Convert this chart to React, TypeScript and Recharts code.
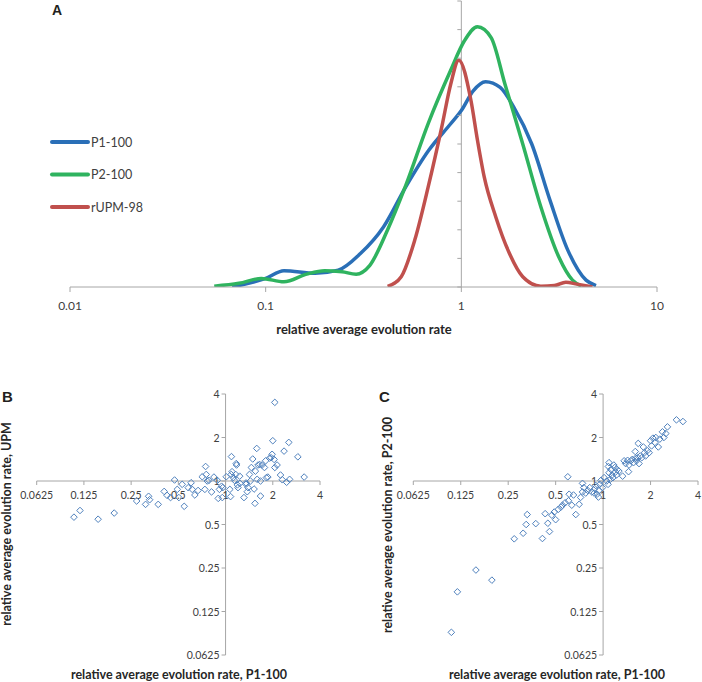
import React from 'react';
import {
  LineChart,
  Line,
  XAxis,
  YAxis,
  ReferenceLine,
  ReferenceDot,
  ScatterChart,
  Scatter,
} from 'recharts';

// ---------- Panel A : density curves ----------
const seriesNames = ['P1-100', 'P2-100', 'rUPM-98'];
const seriesColors = ['#2a6fb7', '#2fb35f', '#c0504d'];

const p1Rate = [0.0674, 0.1, 0.124, 0.179, 0.235, 0.305, 0.4, 0.52, 0.68, 0.88, 1, 1.15, 1.33, 1.58, 1.85, 2.29, 2.84, 3.5, 4.34, 4.88];
const p1Density = [0, 0.3, 0.57, 0.48, 0.59, 1.17, 2.1, 3.5, 4.77, 5.7, 6.17, 6.86, 7.18, 6.98, 6.3, 5.0, 3.03, 1.29, 0.24, 0.05];

const p2Rate = [0.0546, 0.073, 0.095, 0.124, 0.162, 0.2, 0.246, 0.29, 0.34, 0.42, 0.52, 0.68, 0.88, 1.035, 1.21, 1.42, 1.67, 2.06, 2.55, 3.15, 3.7, 4.11];
const p2Density = [0.03, 0.13, 0.3, 0.18, 0.45, 0.57, 0.53, 0.45, 0.75, 2.0, 3.55, 5.75, 7.56, 8.6, 9.1, 8.72, 7.1, 5.0, 2.8, 1.05, 0.24, 0.03];

const upmRate = [0.42, 0.493, 0.578, 0.677, 0.794, 0.883, 0.97, 1.12, 1.21, 1.31, 1.5, 1.76, 2.06, 2.55, 2.99, 3.42, 3.9, 4.68];
const upmDensity = [0.02, 0.36, 1.64, 3.5, 5.59, 7.1, 7.93, 6.52, 5.12, 3.84, 2.45, 1.18, 0.36, 0.03, 0.05, 0.17, 0.1, 0.0];

const aXTicks = [0.01, 0.1, 1, 10];
const aYTicks = [0, 1, 2, 3, 4, 5, 6, 7, 8, 9, 10];

// ---------- Panel B : P1-100 vs UPM ----------
const bX = [0.108, 0.118, 0.154, 0.195, 0.271, 0.309, 0.323, 0.328, 0.372, 0.406, 0.424, 0.446, 0.473, 0.492, 0.504, 0.529, 0.545, 0.578, 0.603, 0.613, 0.637, 0.668, 0.71, 0.738, 0.746, 0.753, 0.764, 0.783, 0.814, 0.843, 0.886, 0.898, 0.914, 0.943, 0.953, 0.96,
  1.01, 1.065, 1.076, 1.086, 1.09, 1.1, 1.12, 1.14, 1.16, 1.17, 1.175, 1.19, 1.2, 1.23, 1.235, 1.31, 1.35, 1.35, 1.375, 1.39, 1.42, 1.44, 1.46, 1.49, 1.52, 1.54, 1.55, 1.58, 1.59, 1.61, 1.65, 1.67, 1.67, 1.71, 1.77, 1.8, 1.82, 1.86, 1.91, 1.95, 1.98, 2.0, 2.04, 2.06, 2.06, 2.13, 2.24, 2.3, 2.36, 2.45, 2.53, 2.56, 2.89, 3.17];
const bY = [0.562, 0.625, 0.544, 0.6, 0.727, 0.689, 0.784, 0.742, 0.689, 0.847, 0.795, 0.768, 1.016, 0.875, 0.768, 0.948, 0.668, 0.899, 0.973, 0.875, 0.8, 0.86, 1.07, 0.875, 1.26, 1.11, 1.0, 1.01, 0.84, 1.065, 1.01, 0.758, 0.875, 0.92, 0.768, 0.9,
  1.07, 0.875, 0.78, 1.11, 1.475, 1.16, 1.055, 1.01, 1.11, 1.32, 1.29, 0.94, 0.9, 1.08, 0.963, 0.768, 0.948, 0.97, 0.843, 0.9, 1.11, 1.0, 1.24, 1.42, 0.88, 0.7, 1.17, 1.68, 1.027, 1.29, 1.3, 0.787, 1.0, 1.29, 1.24, 1.38, 1.055, 1.065, 1.44, 1.45, 1.53, 1.9, 1.41, 3.5, 1.24, 1.29, 1.1, 1.02, 1.61, 0.98, 1.85, 1.027, 1.47, 1.065];

// ---------- Panel C : P1-100 vs P2-100 ----------
const cX = [0.109, 0.119, 0.156, 0.197, 0.273, 0.311, 0.325, 0.33, 0.374, 0.412, 0.429, 0.446, 0.457, 0.473, 0.49, 0.5, 0.52, 0.54, 0.553, 0.574, 0.597, 0.603, 0.609, 0.633, 0.649, 0.671, 0.705, 0.72, 0.74, 0.74, 0.754, 0.776, 0.8, 0.823, 0.848, 0.877, 0.885, 0.9, 0.916, 0.934, 0.943, 0.952, 0.97, 0.99,
  1.015, 1.055, 1.075, 1.08, 1.09, 1.09, 1.11, 1.12, 1.135, 1.155, 1.17, 1.185, 1.2, 1.215, 1.23, 1.26, 1.33, 1.36, 1.39, 1.43, 1.45, 1.46, 1.5, 1.53, 1.56, 1.6, 1.61, 1.63, 1.66, 1.67, 1.69, 1.72, 1.76, 1.8, 1.83, 1.86, 1.91, 1.96, 2.0, 2.03, 2.07, 2.13, 2.16, 2.24, 2.29, 2.38, 2.43, 2.5, 2.56, 2.92, 3.21];
const cY = [0.0897, 0.171, 0.242, 0.206, 0.398, 0.435, 0.5, 0.586, 0.507, 0.4, 0.594, 0.51, 0.447, 0.58, 0.61, 0.54, 0.637, 0.66, 0.68, 0.707, 1.07, 0.73, 0.81, 0.68, 0.8, 0.586, 0.69, 0.77, 0.84, 0.963, 0.9, 0.825, 0.86, 0.9, 0.84, 0.825, 0.885, 0.93, 0.81, 0.774, 0.86, 0.948, 1.01, 0.9,
  1.055, 1.0, 0.948, 1.26, 1.34, 1.14, 1.027, 1.2, 1.095, 1.055, 1.29, 1.24, 1.155, 1.1, 1.2, 1.17, 1.08, 1.38, 1.32, 1.39, 1.16, 1.29, 1.38, 1.41, 1.34, 1.6, 1.44, 1.38, 1.45, 1.82, 1.32, 1.49, 1.45, 1.72, 1.57, 1.49, 1.62, 1.57, 1.9, 1.75, 1.98, 1.85, 2.0, 1.72, 1.95, 2.19, 2.0, 2.13, 2.37, 2.65, 2.58];

const scatterTicks = [0.0625, 0.125, 0.25, 0.5, 1, 2, 4];

// ---------- styling ----------
const AXIS = '#a6a6a6';
const TXT = '#404040';
const FONT = 'Lato, "Open Sans", sans-serif';
const MARK = '#4f81bd';

const zip = (xs: number[], ys: number[]) => xs.map((x, i) => ({ x, y: ys[i] }));
const p1Data = zip(p1Rate, p1Density);
const p2Data = zip(p2Rate, p2Density);
const upmData = zip(upmRate, upmDensity);
const bData = zip(bX, bY);
const cData = zip(cX, cY);
const aSeries = [p1Data, p2Data, upmData];

const Diamond = (props: any) => {
  const { cx, cy } = props;
  if (cx == null || cy == null) return null;
  const r = 3.3;
  return (
    <path
      d={`M${cx},${cy - r}L${cx + r},${cy}L${cx},${cy + r}L${cx - r},${cy}Z`}
      fill="none"
      stroke={MARK}
      strokeWidth={1}
    />
  );
};

const XTickMark = ({ cx, cy, text }: any) => (
  <g>
    <line x1={cx} y1={cy} x2={cx} y2={cy + 4} stroke={AXIS} strokeWidth={1} />
    <text x={cx} y={cy + 18} textAnchor="middle" fontSize={10.5} fill={TXT} fontFamily={FONT}>
      {text}
    </text>
  </g>
);

const YTickMark = ({ cx, cy, text }: any) => (
  <g>
    <line x1={cx - 4} y1={cy} x2={cx} y2={cy} stroke={AXIS} strokeWidth={1} />
    <text x={cx - 6} y={cy + 4} textAnchor="end" fontSize={10.5} fill={TXT} fontFamily={FONT}>
      {text}
    </text>
  </g>
);

const ATick = ({ cx, cy }: any) => (
  <line x1={cx - 4} y1={cy} x2={cx} y2={cy} stroke={AXIS} strokeWidth={1} />
);

const ScatterPanel = ({ data, width, margin }: any) => (
  <ScatterChart width={width} height={290} margin={margin}>
    <XAxis type="number" dataKey="x" scale="log" domain={[0.0625, 4]} allowDataOverflow hide />
    <YAxis type="number" dataKey="y" scale="log" domain={[0.0625, 4]} allowDataOverflow hide />
    <ReferenceLine y={1} stroke={AXIS} strokeWidth={1} ifOverflow="visible" />
    <ReferenceLine x={1} stroke={AXIS} strokeWidth={1} ifOverflow="visible" />
    {scatterTicks.map((v) => (
      <ReferenceDot
        key={'x' + v}
        x={v}
        y={1}
        ifOverflow="visible"
        shape={(p: any) => <XTickMark {...p} text={String(v)} />}
      />
    ))}
    {scatterTicks.map((v) => (
      <ReferenceDot
        key={'y' + v}
        x={1}
        y={v}
        ifOverflow="visible"
        shape={(p: any) => <YTickMark {...p} text={String(v)} />}
      />
    ))}
    <Scatter data={data} shape={Diamond} isAnimationActive={false} />
  </ScatterChart>
);

export default function App() {
  return (
    <div style={{ position: 'absolute', left: 0, top: 0, width: 702, height: 682, background: '#fff', fontFamily: FONT }}>
      <div style={{ position: 'absolute', left: 0, top: 0 }}>
        <LineChart width={702} height={320} margin={{ top: 1, right: 45, bottom: 9, left: 70 }}>
          <XAxis
            type="number"
            dataKey="x"
            scale="log"
            domain={[0.01, 10]}
            ticks={aXTicks}
            allowDataOverflow
            tickFormatter={(v: number) => String(v)}
            stroke={AXIS}
            tickSize={5}
            tickMargin={9}
            height={24}
            tick={{ fill: TXT, fontSize: 12, fontFamily: FONT }}
          />
          <YAxis type="number" domain={[0, 10]} allowDataOverflow hide />
          <ReferenceLine x={1} stroke={AXIS} strokeWidth={1} ifOverflow="visible" />
          {aYTicks.map((k) => (
            <ReferenceDot key={k} x={1} y={k} ifOverflow="visible" shape={(p: any) => <ATick {...p} />} />
          ))}
          {aSeries.map((d, i) => (
            <Line
              key={seriesNames[i]}
              data={d}
              dataKey="y"
              name={seriesNames[i]}
              type="monotone"
              stroke={seriesColors[i]}
              strokeWidth={3.5}
              dot={false}
              isAnimationActive={false}
            />
          ))}
        </LineChart>
      </div>

      <div style={{ position: 'absolute', left: 0, top: 380 }}>
        <ScatterPanel data={bData} width={340} margin={{ top: 14, right: 20, bottom: 15, left: 36.7 }} />
      </div>
      <div style={{ position: 'absolute', left: 376, top: 380 }}>
        <ScatterPanel data={cData} width={326} margin={{ top: 14, right: 4, bottom: 15, left: 37.3 }} />
      </div>

      <svg width={702} height={682} style={{ position: 'absolute', left: 0, top: 0, pointerEvents: 'none' }}>
        <g fontFamily='"Liberation Sans", Arial, sans-serif' fontWeight="bold" fill="#231f20">
          <text x={52} y={15} fontSize={14}>A</text>
          <text x={2} y={402} fontSize={15}>B</text>
          <text x={379} y={402} fontSize={15}>C</text>
        </g>
        {seriesNames.map((n, i) => (
          <g key={n}>
            <line x1={52} x2={88} y1={142 + i * 32.5} y2={142 + i * 32.5} stroke={seriesColors[i]} strokeWidth={4} strokeLinecap="round" />
            <text x={91} y={146.7 + i * 32.5} fontSize={12.5} fill={TXT} fontFamily={FONT}>{n}</text>
          </g>
        ))}
        <g fontFamily={FONT} fontWeight="bold" fill="#262626" textAnchor="middle">
          <text x={364} y={334} fontSize={13}>relative average evolution rate</text>
          <text x={179} y={679} fontSize={12.5}>relative average evolution rate, P1-100</text>
          <text x={557} y={679} fontSize={12.5}>relative average evolution rate, P1-100</text>
          <text transform="translate(11,524) rotate(-90)" fontSize={12.5}>relative average evolution rate, UPM</text>
          <text transform="translate(392,525) rotate(-90)" fontSize={12.5}>relative average evolution rate, P2-100</text>
        </g>
      </svg>
    </div>
  );
}
